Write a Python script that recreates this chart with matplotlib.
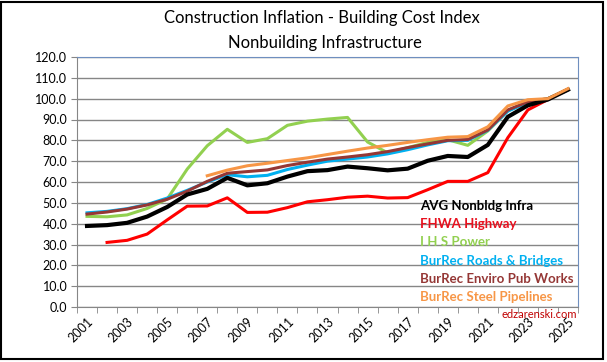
import numpy as np
import matplotlib
matplotlib.use("Agg")
import matplotlib.pyplot as plt
from matplotlib.patches import Rectangle

plt.rcParams['font.family'] = ['Lato', 'DejaVu Sans']

nan = np.nan
years = list(range(2001, 2026))

# index values
avg_nonbldg = [38.9, 39.3, 40.4, 43.4, 48.0, 54.0, 56.7, 62.0, 58.4, 59.4,
               62.6, 65.2, 65.7, 67.4, 66.6, 65.6, 66.4, 70.2, 72.5, 72.0,
               77.8, 91.3, 96.8, 99.6, 104.3]
fhwa_highway = [nan, 31.0, 32.0, 35.0, 41.8, 48.4, 48.5, 52.4, 45.4, 45.5,
                47.7, 50.5, 51.5, 52.7, 53.2, 52.3, 52.5, 56.3, 60.3, 60.3,
                64.5, 81.3, 94.6, 99.6, 104.3]
ihs_power = [43.5, 43.3, 44.2, 47.3, 51.8, 66.2, 77.4, 85.3, 79.0, 80.8,
             87.2, 89.2, 90.2, 91.0, 79.2, 74.0, 76.5, 79.0, 80.3, 77.6,
             84.5, 94.2, 98.5, 100.0, 104.4]
burrec_roads = [45.2, 45.9, 47.2, 49.2, 52.3, 56.0, 60.0, 63.5, 62.5, 63.2,
                66.0, 68.1, 70.0, 71.0, 72.0, 73.5, 75.5, 77.8, 79.8, 80.0,
                84.8, 94.0, 98.2, 100.0, 104.3]
burrec_enviro = [44.6, 45.6, 47.0, 49.0, 51.7, 55.6, 60.3, 64.2, 65.0, 65.8,
                 67.9, 69.5, 71.0, 72.0, 73.1, 74.6, 76.5, 78.3, 80.0, 80.4,
                 85.0, 94.6, 98.5, 100.0, 104.3]
burrec_steel = [nan, nan, nan, nan, nan, nan, 63.0, 65.7, 67.8, 69.0,
                70.3, 71.6, 73.2, 74.8, 76.3, 77.6, 79.0, 80.3, 81.5, 81.8,
                86.5, 96.5, 99.5, 100.0, 104.8]

labels = ["AVG Nonbldg Infra", "FHWA Highway", "I H S Power",
          "BurRec Roads & Bridges", "BurRec Enviro Pub Works", "BurRec Steel Pipelines"]
colors = ["#000000", "#FF0000", "#92D050", "#00B0F0", "#953735", "#F79646"]
label_colors = ["#000000", "#E8101E", "#92D050", "#00B0F0", "#953735", "#F79646"]

fig = plt.figure(figsize=(6.07, 3.62), dpi=100)
ax = fig.add_axes([77/607, 1-307/362, 501/607, 250/362])

x = np.arange(len(years))
ax.plot(x, ihs_power, color=colors[2], lw=2.2, zorder=3)
ax.plot(x, burrec_roads, color=colors[3], lw=2.2, zorder=3)
ax.plot(x, burrec_enviro, color=colors[4], lw=2.2, zorder=3)
ax.plot(x, fhwa_highway, color=colors[1], lw=2.2, zorder=3)
ax.plot(x, avg_nonbldg, color=colors[0], lw=3.0, zorder=4)
ax.plot(x, burrec_steel, color=colors[5], lw=2.2, zorder=5)

ax.set_xlim(-0.5, len(years) - 0.5)
ax.set_ylim(0, 120)
ax.set_yticks(np.arange(0, 121, 10))
ax.set_yticklabels([f"{v:.1f}" for v in range(0, 121, 10)], fontsize=9)
ax.yaxis.grid(True, color="#868686", lw=1)
ax.set_axisbelow(True)

ax.set_xticks(x[::2])
ax.set_xticklabels([str(y) for y in years[::2]], rotation=45, ha="right",
                   rotation_mode="anchor", fontsize=9)
ax.set_xticks(np.arange(-0.5, len(years)), minor=True)
ax.tick_params(axis="x", which="major", length=0, pad=6)
ax.tick_params(axis="x", which="minor", length=4, color="#868686")
ax.tick_params(axis="y", length=4, color="#868686", pad=3)

for s in ["left", "bottom"]:
    ax.spines[s].set_color("#868686")
for s in ["right", "top"]:
    ax.spines[s].set_color("#6f8fbf")

fig.text(0.53, 0.95, "Construction Inflation - Building Cost Index",
         ha="center", va="center", fontsize=12)
fig.text(0.535, 0.88, "Nonbuilding Infrastructure",
         ha="center", va="center", fontsize=12)

for i, (lab, c) in enumerate(zip(labels, label_colors)):
    fig.text(420/607, 1-(206 + 18.2*i)/362, lab, color=c, fontsize=9.5,
             fontweight="bold", ha="left", va="center")

fig.text(577/607, 1-315/362, "edzarenski.com", color="#C00000", fontsize=8,
         ha="right", va="center")

fig.patches.append(Rectangle((1.5/607, 1-358.5/362), 601/607, 357/362,
                             transform=fig.transFigure, fill=False,
                             edgecolor="black", lw=1.5))

fig.savefig("out.png", dpi=100)
